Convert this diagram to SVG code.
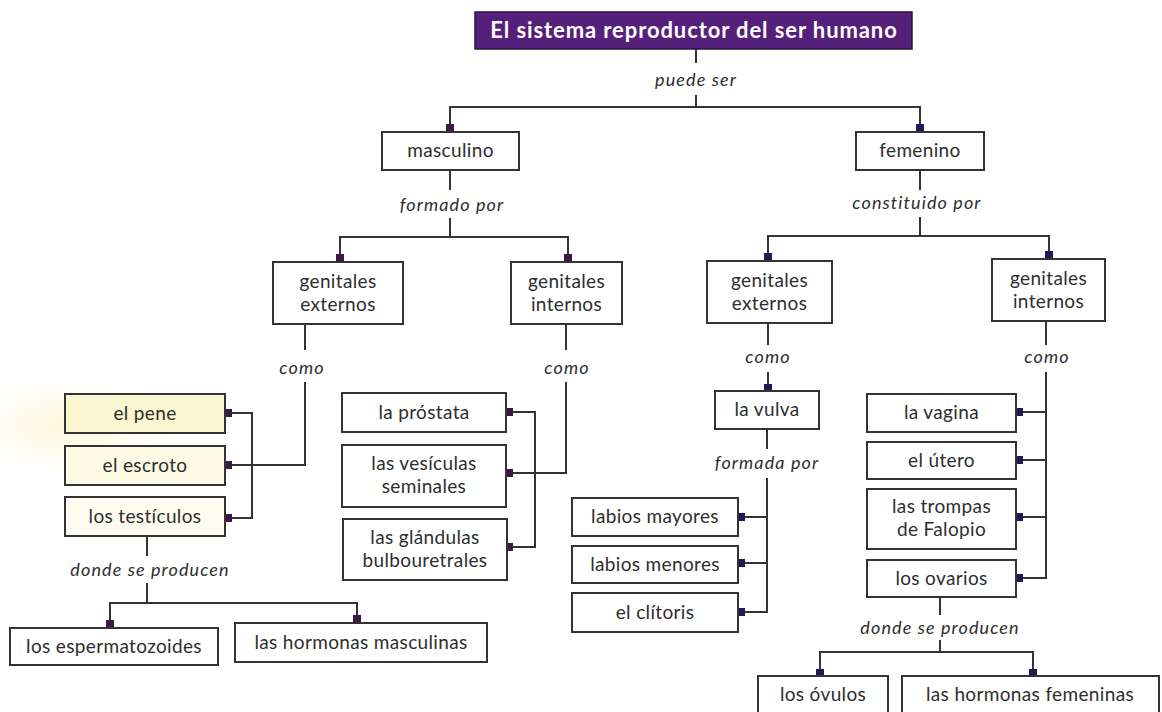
<svg xmlns="http://www.w3.org/2000/svg" width="1162" height="712" viewBox="0 0 1162 712">
<defs>
<radialGradient id="glow" cx="0.5" cy="0.5" r="0.5">
<stop offset="0" stop-color="#fcf3cc" stop-opacity="0.7"/>
<stop offset="1" stop-color="#fdf6d6" stop-opacity="0"/>
</radialGradient>
<style>
.box{fill:#ffffff;stroke:#333333;stroke-width:2}
.t{font-family:Lato,"Liberation Sans",sans-serif;font-size:19px;letter-spacing:0.35px;fill:#2e2e2e;text-anchor:middle}
.lbl{font-family:Lato,"Liberation Sans",sans-serif;font-size:18px;letter-spacing:1.1px;font-style:italic;fill:#2e2e2e;text-anchor:middle}
.ln{fill:none;stroke:#333333;stroke-width:2}
.mm{fill:#3d1845}
.mf{fill:#1f1a55}
</style>
</defs>
<rect width="1162" height="712" fill="#ffffff"/>
<ellipse cx="70" cy="425" rx="110" ry="50" fill="url(#glow)"/>

<g id="connectors">
<path class="ln" d="M696,49 V63 M696,95 V107 M450,124 V107 H920 V124"/>
<path class="ln" d="M450,170 V190 M450,218 V237 M340,254 V237 H568 V254"/>
<path class="ln" d="M920,170 V190 M920,217 V236 M768,253 V236 H1049 V251"/>
<path class="ln" d="M305,324 V350 M305,382 V465 H232 M232,413 H252 V518 H232"/>
<path class="ln" d="M566,324 V350 M566,382 V473 H513 M513,412 H535 V547 H513"/>
<path class="ln" d="M147,536 V556 M147,583 V603 M110,620 V603 H357 V615"/>
<path class="ln" d="M768,323 V345 M768,372 V384 M767,429 V449 M767,478 V612 H745 M745,517 H767 M745,563 H767"/>
<path class="ln" d="M1046,321 V345 M1046,372 V578 H1023 M1023,412 H1046 M1023,460 H1046 M1023,517 H1046"/>
<path class="ln" d="M940,597 V615 M940,640 V652 M820,669 V652 H1033 V669"/>
<!-- markers -->
<rect class="mm" x="446" y="124" width="8" height="8"/>
<rect class="mf" x="916" y="124" width="8" height="8"/>
<rect class="mm" x="336" y="254" width="8" height="8"/>
<rect class="mm" x="564" y="254" width="8" height="8"/>
<rect class="mf" x="764" y="253" width="8" height="8"/>
<rect class="mf" x="1045" y="251" width="8" height="8"/>
<rect class="mm" x="225" y="409" width="7" height="8"/>
<rect class="mm" x="225" y="461" width="7" height="8"/>
<rect class="mm" x="225" y="514" width="7" height="8"/>
<rect class="mm" x="506" y="408" width="7" height="8"/>
<rect class="mm" x="506" y="469" width="7" height="8"/>
<rect class="mm" x="506" y="543" width="7" height="8"/>
<rect class="mm" x="106" y="620" width="8" height="8"/>
<rect class="mm" x="353" y="615" width="8" height="8"/>
<rect class="mf" x="764" y="384" width="8" height="7"/>
<rect class="mf" x="738" y="513" width="7" height="8"/>
<rect class="mf" x="738" y="559" width="7" height="8"/>
<rect class="mf" x="738" y="608" width="7" height="8"/>
<rect class="mf" x="1016" y="408" width="7" height="8"/>
<rect class="mf" x="1016" y="456" width="7" height="8"/>
<rect class="mf" x="1016" y="513" width="7" height="8"/>
<rect class="mf" x="1016" y="574" width="7" height="8"/>
<rect class="mf" x="816" y="669" width="8" height="7"/>
<rect class="mf" x="1029" y="669" width="8" height="7"/>
<!-- link labels -->
<text class="lbl" x="696" y="86">puede ser</text>
<text class="lbl" x="452" y="211">formado por</text>
<text class="lbl" x="917" y="209">constituido por</text>
<text class="lbl" x="302" y="374">como</text>
<text class="lbl" x="567" y="374">como</text>
<text class="lbl" x="768" y="363">como</text>
<text class="lbl" x="1047" y="363">como</text>
<text class="lbl" x="767" y="469">formada por</text>
<text class="lbl" x="150" y="576">donde se producen</text>
<text class="lbl" x="940" y="634">donde se producen</text>
</g>

<g id="title">
<rect x="475" y="12" width="437" height="37" fill="#55207a" stroke="#2a1040" stroke-width="1.5"/>
<text x="694" y="38" font-family="Lato,'Liberation Sans',sans-serif" font-size="22" letter-spacing="0.9" font-weight="bold" fill="#ffffff" text-anchor="middle">El sistema reproductor del ser humano</text>
</g>
<g id="masculino"><rect class="box" x="382" y="132" width="137" height="38"/><text class="t" x="450.5" y="157">masculino</text></g>
<g id="femenino"><rect class="box" x="856" y="132" width="128" height="38"/><text class="t" x="920" y="157">femenino</text></g>
<g id="m-externos"><rect class="box" x="273" y="262" width="130" height="62"/><text class="t" x="338" y="288">genitales</text><text class="t" x="338" y="311">externos</text></g>
<g id="m-internos"><rect class="box" x="511" y="262" width="111" height="62"/><text class="t" x="566.5" y="288">genitales</text><text class="t" x="566.5" y="311">internos</text></g>
<g id="f-externos"><rect class="box" x="707" y="261" width="125" height="62"/><text class="t" x="769.5" y="287">genitales</text><text class="t" x="769.5" y="310">externos</text></g>
<g id="f-internos"><rect class="box" x="992" y="259" width="113" height="62"/><text class="t" x="1048.5" y="285">genitales</text><text class="t" x="1048.5" y="308">internos</text></g>
<g id="pene"><rect class="box" x="65" y="394" width="160" height="39" style="fill:#fbf6d2"/><text class="t" x="145" y="420">el pene</text></g>
<g id="escroto"><rect class="box" x="65" y="446" width="160" height="39" style="fill:#fdfae6"/><text class="t" x="145" y="472">el escroto</text></g>
<g id="testiculos"><rect class="box" x="65" y="497" width="160" height="39" style="fill:#fefcf0"/><text class="t" x="145" y="523">los testículos</text></g>
<g id="prostata"><rect class="box" x="342" y="393" width="164" height="39"/><text class="t" x="424" y="419">la próstata</text></g>
<g id="vesiculas"><rect class="box" x="342" y="445" width="164" height="62"/><text class="t" x="424" y="470">las vesículas</text><text class="t" x="424" y="493">seminales</text></g>
<g id="glandulas"><rect class="box" x="343" y="519" width="164" height="61"/><text class="t" x="425" y="544">las glándulas</text><text class="t" x="425" y="567">bulbouretrales</text></g>
<g id="espermatozoides"><rect class="box" x="10" y="628" width="208" height="37"/><text class="t" x="114" y="653">los espermatozoides</text></g>
<g id="hormonas-m"><rect class="box" x="235" y="623" width="252" height="39"/><text class="t" x="361" y="649">las hormonas masculinas</text></g>
<g id="vulva"><rect class="box" x="715" y="391" width="104" height="38"/><text class="t" x="767" y="416">la vulva</text></g>
<g id="labios-mayores"><rect class="box" x="572" y="498" width="166" height="38"/><text class="t" x="655" y="523">labios mayores</text></g>
<g id="labios-menores"><rect class="box" x="572" y="546" width="166" height="37"/><text class="t" x="655" y="571">labios menores</text></g>
<g id="clitoris"><rect class="box" x="572" y="593" width="166" height="39"/><text class="t" x="655" y="619">el clítoris</text></g>
<g id="vagina"><rect class="box" x="867" y="394" width="149" height="38"/><text class="t" x="941.5" y="419">la vagina</text></g>
<g id="utero"><rect class="box" x="867" y="442" width="149" height="37"/><text class="t" x="941.5" y="467">el útero</text></g>
<g id="trompas"><rect class="box" x="867" y="489" width="149" height="60"/><text class="t" x="941.5" y="513">las trompas</text><text class="t" x="941.5" y="536">de Falopio</text></g>
<g id="ovarios"><rect class="box" x="867" y="560" width="149" height="37"/><text class="t" x="941.5" y="585">los ovarios</text></g>
<g id="ovulos"><rect class="box" x="758" y="676" width="130" height="45"/><text class="t" x="823" y="701">los óvulos</text></g>
<g id="hormonas-f"><rect class="box" x="902" y="676" width="257" height="45"/><text class="t" x="1030" y="701">las hormonas femeninas</text></g>
</svg>
